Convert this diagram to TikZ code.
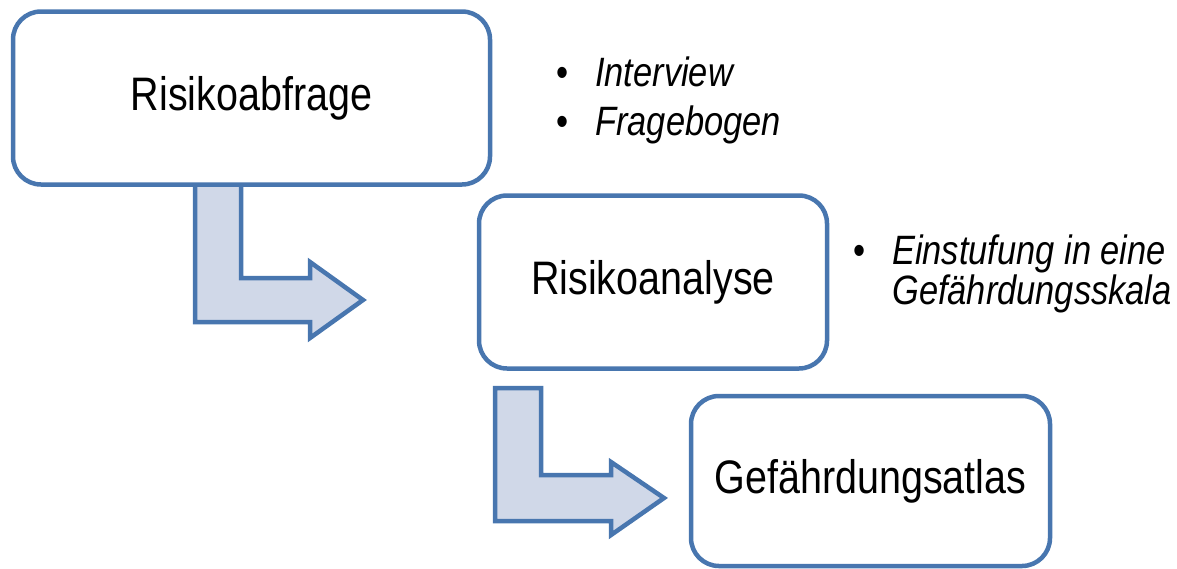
\documentclass[tikz,border=0pt]{standalone}
\usepackage{fontspec}
\setmainfont{Liberation Sans}[FakeStretch=0.84]
\usepackage{tikz}
\definecolor{boxblue}{RGB}{72,118,175}
\definecolor{arrowfill}{RGB}{208,216,232}
\tikzset{
	stage/.style={draw=boxblue, line width=4.5pt, fill=white, rounded corners=28pt, inner sep=0pt, font=\fontsize{47}{50}\selectfont},
	blockarrow/.style={draw=boxblue, line width=4.5pt, fill=arrowfill, line join=miter},
	dot/.style={inner sep=0pt, anchor=base, font=\fontsize{41}{44}\selectfont},
	point/.style={inner sep=0pt, anchor=base west, font=\fontsize{41}{44}\selectfont\itshape}
}
\begin{document}
\begin{tikzpicture}[x=1pt, y=-1pt]
		%%%%% START %%%%%
		\useasboundingbox (0, 0) rectangle (1177, 568);
		
		\draw[blockarrow] (195, 175) -- (241, 175) -- (241, 278) -- (310, 278) -- (310, 262) -- (363, 300) -- (310, 338) -- (310, 322) -- (195, 322) -- cycle;
		\draw[blockarrow] (495, 388) -- (541, 388) -- (541, 475) -- (611, 475) -- (611, 462) -- (664, 498) -- (611, 535) -- (611, 521) -- (495, 521) -- cycle;
		
		\node[stage, minimum width=477pt, minimum height=173pt] (abfrage) at (251.5, 98) {Risikoabfrage};
		\node[stage, minimum width=348pt, minimum height=173pt] (analyse) at (653, 282) {Risikoanalyse};
		\node[stage, minimum width=359pt, minimum height=170pt] (atlas) at (870.5, 481) {Gefährdungsatlas};
		
		\node[dot] (dotA) at (563, 86) {\textbullet};
		\node[point] (interview) at (595, 86) {Interview};
		\node[dot] (dotB) at (563, 135) {\textbullet};
		\node[point] (fragebogen) at (595, 135) {Fragebogen};
		
		\node[dot] (dotC) at (860, 264) {\textbullet};
		\node[point] (einstufung) at (892, 264) {Einstufung in eine};
		\node[point] (skala) at (892, 304) {Gefährdungsskala};
		
		%%%%% END %%%%%
	\end{tikzpicture}
\end{document}
